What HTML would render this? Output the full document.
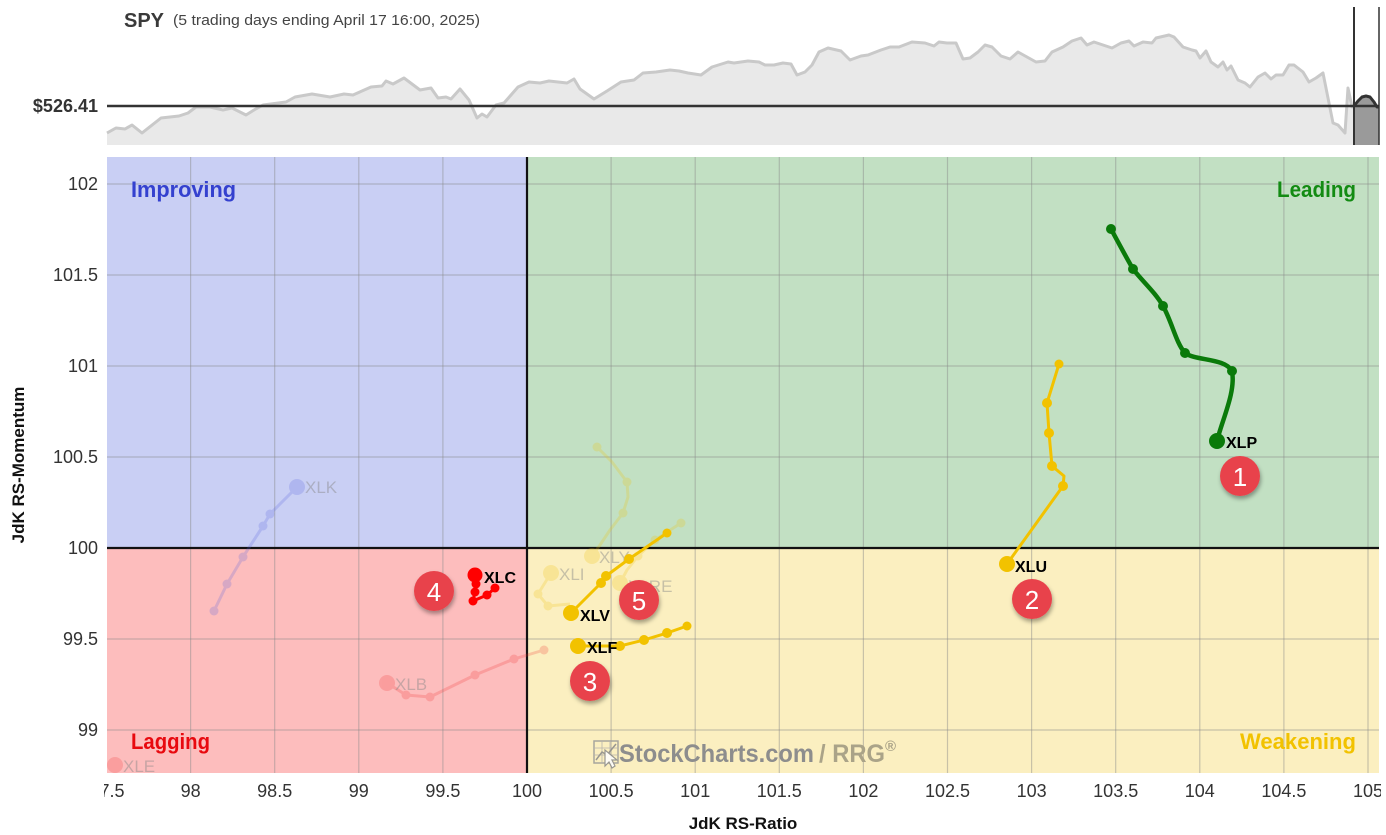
<!DOCTYPE html>
<html><head><meta charset="utf-8"><style>
html,body{margin:0;padding:0;background:#fff;}
svg{display:block;font-family:"Liberation Sans",sans-serif;}
</style></head><body>
<svg width="1386" height="835" viewBox="0 0 1386 835" xmlns="http://www.w3.org/2000/svg">
<defs>
<clipPath id="xc"><rect x="104" y="775" width="1277" height="40"/></clipPath>
<clipPath id="pc"><rect x="107" y="157" width="1272" height="616"/></clipPath>
<filter id="sh" x="-50%" y="-50%" width="200%" height="200%"><feDropShadow dx="1" dy="3" stdDeviation="2.2" flood-color="#000" flood-opacity="0.35"/></filter>
</defs>

<!-- SPY header -->
<text x="124" y="27" font-size="20" font-weight="bold" fill="#3a3a3a">SPY</text>
<text x="173" y="25" font-size="15" fill="#444" textLength="307" lengthAdjust="spacingAndGlyphs">(5 trading days ending April 17 16:00, 2025)</text>

<polygon fill="#e9e9e9" points="107,133 116,128 125,129 132,125 142,133 161,118 179,116 188,113 196,107 210,107 223,110 232,108 246,115 254,110 263,105 286,102 295,97 312,94 330,97 344,94 353,95 371,87 382,86 386,81 393,84 404,78 420,90 431,88 438,98 446,97 451,99 460,89 469,100 477,118 482,114 487,117 496,105 504,103 518,87 529,82 540,83 549,81 558,82 567,83 574,79 580,89 594,99 607,91 621,82 634,80 643,73 656,72 670,70 679,71 688,73 701,75 712,67 728,62 734,63 748,61 759,62 765,65 774,65 783,63 791,64 797,75 805,72 812,65 819,52 828,48 841,51 850,60 861,56 868,55 881,50 890,47 899,47 912,42 925,43 934,46 939,42 947,43 956,43 963,59 970,58 978,52 985,45 992,47 1001,56 1010,59 1018,52 1027,57 1036,62 1045,61 1052,52 1063,47 1072,41 1081,38 1087,45 1094,42 1103,45 1112,48 1121,43 1129,41 1134,46 1143,42 1152,43 1156,38 1169,35 1174,37 1183,47 1192,50 1196,51 1200,58 1206,51 1211,62 1218,67 1223,62 1227,70 1231,66 1238,80 1245,83 1250,87 1258,77 1265,73 1271,79 1276,75 1283,75 1289,65 1294,65 1303,72 1309,82 1316,78 1323,73 1333,123 1338,125 1345,133 1348,88 1352,107 1354,106 1354,145 107,145"/>
<polyline fill="none" stroke="#c9c9c9" stroke-width="3" stroke-linejoin="round" points="107,133 116,128 125,129 132,125 142,133 161,118 179,116 188,113 196,107 210,107 223,110 232,108 246,115 254,110 263,105 286,102 295,97 312,94 330,97 344,94 353,95 371,87 382,86 386,81 393,84 404,78 420,90 431,88 438,98 446,97 451,99 460,89 469,100 477,118 482,114 487,117 496,105 504,103 518,87 529,82 540,83 549,81 558,82 567,83 574,79 580,89 594,99 607,91 621,82 634,80 643,73 656,72 670,70 679,71 688,73 701,75 712,67 728,62 734,63 748,61 759,62 765,65 774,65 783,63 791,64 797,75 805,72 812,65 819,52 828,48 841,51 850,60 861,56 868,55 881,50 890,47 899,47 912,42 925,43 934,46 939,42 947,43 956,43 963,59 970,58 978,52 985,45 992,47 1001,56 1010,59 1018,52 1027,57 1036,62 1045,61 1052,52 1063,47 1072,41 1081,38 1087,45 1094,42 1103,45 1112,48 1121,43 1129,41 1134,46 1143,42 1152,43 1156,38 1169,35 1174,37 1183,47 1192,50 1196,51 1200,58 1206,51 1211,62 1218,67 1223,62 1227,70 1231,66 1238,80 1245,83 1250,87 1258,77 1265,73 1271,79 1276,75 1283,75 1289,65 1294,65 1303,72 1309,82 1316,78 1323,73 1333,123 1338,125 1345,133 1348,88 1352,107 1354,106"/>
<polygon fill="#9a9a9a" points="1354,106 1358,101 1362,97 1366,96 1370,97 1374,102 1377,107 1379,107 1379,145 1354,145"/>
<line x1="107" y1="106" x2="1379" y2="106" stroke="#333" stroke-width="2.5"/>
<polyline fill="none" stroke="#333" stroke-width="3" stroke-linejoin="round" points="1354,106 1358,101 1362,97 1366,96 1370,97 1374,102 1377,107 1379,107"/>
<line x1="1354" y1="7" x2="1354" y2="145" stroke="#333" stroke-width="2"/>
<line x1="1379" y1="7" x2="1379" y2="145" stroke="#333" stroke-width="1.5"/>
<text x="98" y="112" font-size="18" font-weight="bold" fill="#333" text-anchor="end">$526.41</text>

<!-- Quadrants -->
<rect x="107" y="157" width="420" height="391" fill="#c9cff4"/>
<rect x="527" y="157" width="852" height="391" fill="#c2e0c3"/>
<rect x="107" y="548" width="420" height="225" fill="#fdbdbd"/>
<rect x="527" y="548" width="852" height="225" fill="#fbefc0"/>

<!-- grid -->
<g stroke="#8a8a8a" stroke-opacity="0.45" stroke-width="1.2">
<line x1="107" y1="184" x2="1379" y2="184"/>
<line x1="107" y1="275" x2="1379" y2="275"/>
<line x1="107" y1="366" x2="1379" y2="366"/>
<line x1="107" y1="457" x2="1379" y2="457"/>
<line x1="107" y1="639" x2="1379" y2="639"/>
<line x1="107" y1="730" x2="1379" y2="730"/>
<line x1="190.6" y1="157" x2="190.6" y2="773"/>
<line x1="274.7" y1="157" x2="274.7" y2="773"/>
<line x1="358.8" y1="157" x2="358.8" y2="773"/>
<line x1="442.9" y1="157" x2="442.9" y2="773"/>
<line x1="611.1" y1="157" x2="611.1" y2="773"/>
<line x1="695.2" y1="157" x2="695.2" y2="773"/>
<line x1="779.3" y1="157" x2="779.3" y2="773"/>
<line x1="863.4" y1="157" x2="863.4" y2="773"/>
<line x1="947.5" y1="157" x2="947.5" y2="773"/>
<line x1="1031.6" y1="157" x2="1031.6" y2="773"/>
<line x1="1115.7" y1="157" x2="1115.7" y2="773"/>
<line x1="1199.8" y1="157" x2="1199.8" y2="773"/>
<line x1="1283.9" y1="157" x2="1283.9" y2="773"/>
<line x1="1368" y1="157" x2="1368" y2="773"/>
</g>
<line x1="527" y1="157" x2="527" y2="773" stroke="#111" stroke-width="2.2"/>
<line x1="107" y1="548" x2="1379" y2="548" stroke="#111" stroke-width="2.2"/>

<!-- quadrant labels -->
<text x="131" y="197" font-size="22" font-weight="bold" fill="#3441cf" textLength="105" lengthAdjust="spacingAndGlyphs">Improving</text>
<text x="1277" y="197" font-size="22" font-weight="bold" fill="#138b13" textLength="79" lengthAdjust="spacingAndGlyphs">Leading</text>
<text x="131" y="749" font-size="22" font-weight="bold" fill="#e8090f" textLength="79" lengthAdjust="spacingAndGlyphs">Lagging</text>
<text x="1240" y="749" font-size="22" font-weight="bold" fill="#f2c200" textLength="116" lengthAdjust="spacingAndGlyphs">Weakening</text>

<!-- logo -->
<g opacity="0.85">
<rect x="594" y="741" width="24" height="22" fill="none" stroke="#999" stroke-width="1.5"/>
<path d="M594,748 H618 M594,755 H618 M602,741 V763 M610,741 V763" stroke="#aaa" stroke-width="0.8"/>
<polyline points="596,760 602,752 607,755 616,744" fill="none" stroke="#888" stroke-width="1.5"/>
<path d="M605,750 L605,766 L609,762 L612,768 L615,766 L612,760 L617,760 Z" fill="#fff" stroke="#888" stroke-width="1.2"/>
</g>
<text x="619" y="762" font-size="25" font-weight="bold" fill="#8d8d8d" textLength="195" lengthAdjust="spacingAndGlyphs">StockCharts.com</text>
<text x="819" y="762" font-size="25" font-weight="bold" fill="#aaa388" textLength="66" lengthAdjust="spacingAndGlyphs">/ RRG</text>
<text x="885" y="751" font-size="15" font-weight="bold" fill="#aaa388">®</text>

<!-- faded series -->
<g clip-path="url(#pc)">
<g opacity="0.22">
<polyline points="214,611 227,584 243,557 263,526 270,514 297,487" fill="none" stroke="#5560e0" stroke-width="3" stroke-linejoin="round"/>
<g fill="#5560e0"><circle cx="214" cy="611" r="4.5"/><circle cx="227" cy="584" r="4.5"/><circle cx="243" cy="557" r="4.5"/><circle cx="263" cy="526" r="4.5"/><circle cx="270" cy="514" r="4.5"/><circle cx="297" cy="487" r="8"/></g>
<polyline points="544,650 514,659 475,675 430,697 406,695 387,683" fill="none" stroke="#f03030" stroke-width="3" stroke-linejoin="round"/>
<g fill="#f03030"><circle cx="544" cy="650" r="4.5"/><circle cx="514" cy="659" r="4.5"/><circle cx="475" cy="675" r="4.5"/><circle cx="430" cy="697" r="4.5"/><circle cx="406" cy="695" r="4.5"/><circle cx="387" cy="683" r="8"/></g>
<circle cx="115" cy="765" r="8" fill="#f03030"/>
<polyline points="597,447 612,462 627,482 628,497 623,513 610,530 600,545 592,556" fill="none" stroke="#f2c200" stroke-width="3" stroke-linejoin="round"/>
<g fill="#f2c200"><circle cx="597" cy="447" r="4.5"/><circle cx="627" cy="482" r="4.5"/><circle cx="623" cy="513" r="4.5"/><circle cx="592" cy="556" r="8"/></g>
<polyline points="681,523 655,540 638,556 627,570 620,583" fill="none" stroke="#f2c200" stroke-width="3" stroke-linejoin="round"/>
<g fill="#f2c200"><circle cx="681" cy="523" r="4.5"/><circle cx="655" cy="540" r="4.5"/><circle cx="638" cy="556" r="4.5"/><circle cx="620" cy="583" r="8"/></g>
<polyline points="551,573 538,594 548,606 570,604" fill="none" stroke="#f2c200" stroke-width="3" stroke-linejoin="round"/>
<g fill="#f2c200"><circle cx="538" cy="594" r="4.5"/><circle cx="548" cy="606" r="4.5"/><circle cx="551" cy="573" r="8"/></g>
</g>
<g font-size="17" fill="#888" opacity="0.45">
<text x="305" y="493">XLK</text>
<text x="395" y="690">XLB</text>
<text x="123" y="772">XLE</text>
<text x="559" y="580">XLI</text>
<text x="599" y="563">XLY</text>
<text x="628" y="592">XLRE</text>
</g>
</g>

<!-- XLP -->
<path d="M1111,229 C1118,242 1126,257 1133,269 C1143,282 1155,292 1163,306 C1172,322 1176,343 1185,353 C1196,361 1225,358 1232,371 C1236,392 1222,420 1217,441" fill="none" stroke="#0a7a0a" stroke-width="4.5" stroke-linecap="round"/>
<g fill="#0a7a0a"><circle cx="1111" cy="229" r="5"/><circle cx="1133" cy="269" r="5"/><circle cx="1163" cy="306" r="5"/><circle cx="1185" cy="353" r="5"/><circle cx="1232" cy="371" r="5"/><circle cx="1217" cy="441" r="8"/></g>
<text x="1226" y="448" font-size="16" font-weight="bold" fill="#000">XLP</text>

<!-- XLU -->
<polyline points="1059,364 1047,403 1049,433 1052,466 1064,476 1063,486 1007,564" fill="none" stroke="#f2c200" stroke-width="3" stroke-linejoin="round"/>
<g fill="#f2c200"><circle cx="1059" cy="364" r="4.5"/><circle cx="1047" cy="403" r="5"/><circle cx="1049" cy="433" r="5"/><circle cx="1052" cy="466" r="5"/><circle cx="1063" cy="486" r="5"/><circle cx="1007" cy="564" r="8"/></g>
<text x="1015" y="572" font-size="16" font-weight="bold" fill="#000">XLU</text>

<!-- XLV -->
<polyline points="667,533 629,559 606,576 601,583 571,613" fill="none" stroke="#f2c200" stroke-width="3" stroke-linejoin="round"/>
<g fill="#f2c200"><circle cx="667" cy="533" r="4.5"/><circle cx="629" cy="559" r="5"/><circle cx="606" cy="576" r="5"/><circle cx="601" cy="583" r="5"/><circle cx="571" cy="613" r="8"/></g>
<text x="580" y="621" font-size="16" font-weight="bold" fill="#000">XLV</text>

<!-- XLF -->
<polyline points="687,626 667,633 644,640 620,646 578,646" fill="none" stroke="#f2c200" stroke-width="3" stroke-linejoin="round"/>
<g fill="#f2c200"><circle cx="687" cy="626" r="4.5"/><circle cx="667" cy="633" r="5"/><circle cx="644" cy="640" r="5"/><circle cx="620" cy="646" r="5"/><circle cx="578" cy="646" r="8"/></g>
<text x="587" y="653" font-size="16" font-weight="bold" fill="#000">XLF</text>

<!-- XLC -->
<polyline points="495,588 487,595 473,601 475,592 476,584 475,575" fill="none" stroke="#f00" stroke-width="3" stroke-linejoin="round"/>
<g fill="#f00"><circle cx="495" cy="588" r="4.5"/><circle cx="487" cy="595" r="4.5"/><circle cx="473" cy="601" r="4.5"/><circle cx="475" cy="592" r="4.5"/><circle cx="476" cy="584" r="4.5"/><circle cx="475" cy="575" r="7.5"/></g>
<text x="484" y="583" font-size="16" font-weight="bold" fill="#000">XLC</text>

<!-- badges -->
<g filter="url(#sh)" fill="#e8434b">
<circle cx="1240" cy="476" r="20"/>
<circle cx="1032" cy="599" r="20"/>
<circle cx="590" cy="681" r="20"/>
<circle cx="434" cy="591" r="20"/>
<circle cx="639" cy="600" r="20"/>
</g>
<g fill="#fff" font-size="26" text-anchor="middle">
<text x="1240" y="486">1</text>
<text x="1032" y="609">2</text>
<text x="590" y="691">3</text>
<text x="434" y="601">4</text>
<text x="639" y="610">5</text>
</g>

<!-- y tick labels -->
<g font-size="18" fill="#333" text-anchor="end">
<text x="98" y="190">102</text>
<text x="98" y="281">101.5</text>
<text x="98" y="372">101</text>
<text x="98" y="463">100.5</text>
<text x="98" y="554">100</text>
<text x="98" y="645">99.5</text>
<text x="98" y="736">99</text>
</g>

<!-- x tick labels -->
<g font-size="18" fill="#333" text-anchor="middle" clip-path="url(#xc)">
<text x="107" y="797">97.5</text>
<text x="190.6" y="797">98</text>
<text x="274.7" y="797">98.5</text>
<text x="358.8" y="797">99</text>
<text x="442.9" y="797">99.5</text>
<text x="527" y="797">100</text>
<text x="611.1" y="797">100.5</text>
<text x="695.2" y="797">101</text>
<text x="779.3" y="797">101.5</text>
<text x="863.4" y="797">102</text>
<text x="947.5" y="797">102.5</text>
<text x="1031.6" y="797">103</text>
<text x="1115.7" y="797">103.5</text>
<text x="1199.8" y="797">104</text>
<text x="1283.9" y="797">104.5</text>
<text x="1368" y="797">105</text>
</g>

<!-- axis titles -->
<text x="743" y="829" font-size="17" font-weight="bold" fill="#111" text-anchor="middle">JdK RS-Ratio</text>
<text transform="translate(24,465) rotate(-90)" font-size="17" font-weight="bold" fill="#111" text-anchor="middle">JdK RS-Momentum</text>
</svg>
</body></html>
